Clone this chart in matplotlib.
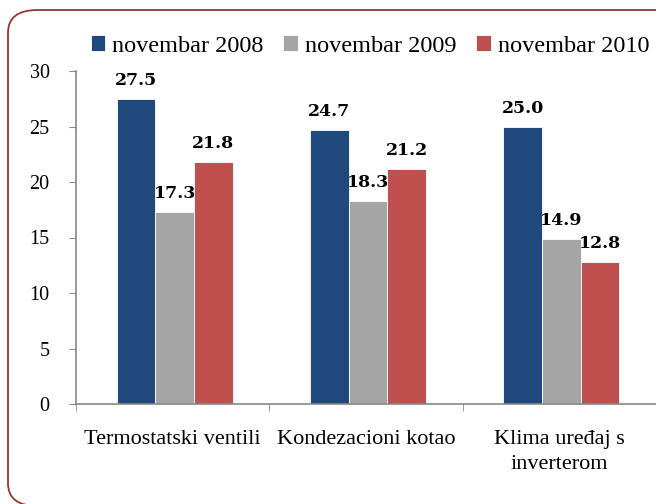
import matplotlib
matplotlib.use("Agg")
import matplotlib.pyplot as plt
from matplotlib.patches import FancyBboxPatch
import numpy as np

categories = ["Termostatski ventili", "Kondezacioni kotao", "Klima uređaj s\ninverterom"]
series_names = ["novembar 2008", "novembar 2009", "novembar 2010"]
v2008 = [27.5, 24.7, 25.0]
v2009 = [17.3, 18.3, 14.9]
v2010 = [21.8, 21.2, 12.8]
yticks = [0, 5, 10, 15, 20, 25, 30]

colors = ["#1F497D", "#A5A5A5", "#C0504D"]
font = "Liberation Serif"
plt.rcParams['font.family'] = [font, 'DejaVu Serif']

fig = plt.figure(figsize=(6.56, 5.04), dpi=100, facecolor="white")
# rounded border
border = FancyBboxPatch((8/656, -2/504), 700/656, 496/504,
                        boxstyle="round,pad=0,rounding_size=0.045",
                        transform=fig.transFigure, facecolor="none",
                        edgecolor="#953735", linewidth=1.3, zorder=10)
fig.patches.append(border)

ax = fig.add_axes([76/656, (504-404)/504, (656-76)/656, (404-60)/504])
ax.set_facecolor("none")
x = np.arange(len(categories))
w = 0.2
for i, (vals, c, name) in enumerate(zip([v2008, v2009, v2010], colors, series_names)):
    pos = x + (i - 1) * w + 0.01
    bars = ax.bar(pos, vals, width=w, color=c, edgecolor="white", linewidth=0.6, label=name)
    for p, v in zip(pos, vals):
        ax.text(p, v + 0.9, f"{v:.1f}", ha="center", va="bottom",
                fontsize=12.5, fontweight="bold", family="DejaVu Serif")

ax.set_xlim(-0.5, 2.5 + 0.0)
ax.set_ylim(0, 30 * (404 - 60) / (404 - 71))
ax.set_yticks(yticks)
ax.set_yticklabels([str(t) for t in yticks])
ax.set_xticks(x)
ax.set_xticklabels(categories, linespacing=1.4)
ax.set_xticks([-0.5, 0.5, 1.5, 2.5], minor=True)
ax.tick_params(axis="x", which="major", length=0, pad=19, labelsize=16)
ax.tick_params(axis="x", which="minor", length=5, direction="out", color="#888888")
ax.tick_params(axis="y", length=5, direction="out", color="#888888", pad=14, labelsize=14.5)
for s in ["top", "right"]:
    ax.spines[s].set_visible(False)
ax.spines["left"].set_color("#888888")
ax.spines["bottom"].set_color("#888888")
ax.spines["left"].set_linewidth(1.2)
ax.spines["bottom"].set_linewidth(1.2)
ax.spines["left"].set_bounds(0, 30)

leg = fig.legend(loc="center", bbox_to_anchor=(370/656, 1 - 46/504), ncol=3,
                 frameon=False, fontsize=17.5, handlelength=0.6, handleheight=0.6,
                 handletextpad=0.3, columnspacing=0.8)

fig.savefig("out.png", dpi=100)
